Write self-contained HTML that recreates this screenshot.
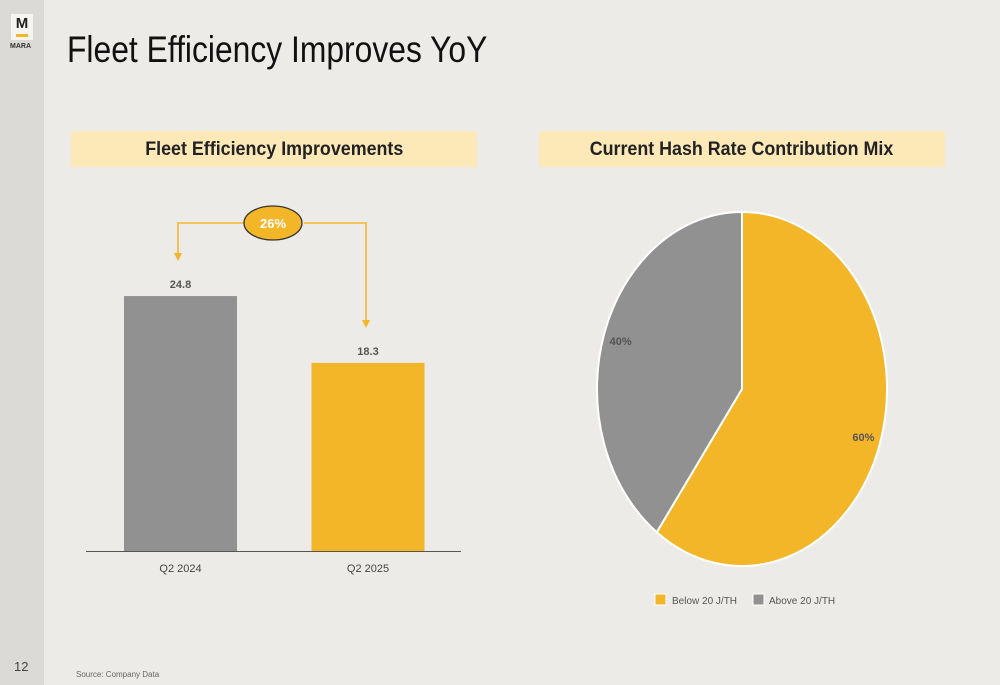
<!DOCTYPE html>
<html><head><meta charset="utf-8"><style>
body{margin:0;width:1000px;height:685px;background:#edebe7;font-family:"Liberation Sans",sans-serif;position:relative;overflow:hidden}
.side{position:absolute;left:0;top:0;width:44px;height:685px;background:#dcdad6}
.abs{position:absolute}
.hdr{position:absolute;top:131px;height:36px;background:#fde8b8;font-weight:bold;font-size:19px;color:#222;text-align:center;line-height:38px}
.hdr span{display:inline-block;transform:scaleX(0.94)}
</style></head><body>
<div class="side"></div>
<div class="abs" style="left:11px;top:14px;width:22px;height:26px;background:#f5f4f1;text-align:center;font-weight:bold;font-size:15px;color:#222;line-height:20px">M<div style="width:12px;height:3px;background:#f3b628;margin:0 auto"></div></div>
<div class="abs" style="left:10px;top:43px;font-size:7px;font-weight:bold;color:#333">MARA</div>
<div class="abs" style="left:67px;top:29px;font-size:37px;color:#111;transform:scaleX(0.86);transform-origin:left">Fleet Efficiency Improves YoY</div>
<div class="hdr" style="left:71px;width:406px"><span>Fleet Efficiency Improvements</span></div>
<div class="hdr" style="left:539px;width:406px"><span>Current Hash Rate Contribution Mix</span></div>
<div class="abs" style="left:14px;top:659px;font-size:13px;color:#444">12</div>
<div class="abs" style="left:76px;top:670px;font-size:8px;color:#666">Source: Company Data</div>
<svg class="abs" style="left:0;top:0" width="1000" height="685" id="chart">
<g id="bars"></g><g id="pie"></g>
<line x1="86" y1="551.5" x2="461" y2="551.5" stroke="#555" stroke-width="1"/>
<polyline points="178,253 178,223 246,223" fill="none" stroke="#f3b628" stroke-width="1.5"/>
<polygon points="174,253 182,253 178,261" fill="#f3b628"/>
<polyline points="304,223 366,223 366,320" fill="none" stroke="#f3b628" stroke-width="1.5"/>
<polygon points="362,320 370,320 366,328" fill="#f3b628"/>
<ellipse cx="273" cy="223" rx="29" ry="17" fill="#f3b628" stroke="#333" stroke-width="1.3"/>
<text x="273" y="228" text-anchor="middle" font-size="13" font-weight="bold" fill="#fff">26%</text>
<rect x="655" y="594" width="11" height="11" fill="#f3b628" stroke="#fff"/>
<text x="672" y="604" font-size="10" fill="#555">Below 20 J/TH</text>
<rect x="753" y="594" width="11" height="11" fill="#919191" stroke="#fff"/>
<text x="769" y="604" font-size="10" fill="#555">Above 20 J/TH</text>
</svg>
<script>
const categories=["Q2 2024","Q2 2025"];
const values=[24.8,18.3];
const barColors=["#919191","#f3b628"];
const pieLabels=["Below 20 J/TH","Above 20 J/TH"];
const pieValues=[60,40];
const pieColors=["#f3b628","#919191"];
const NS="http://www.w3.org/2000/svg";
function mk(t,a,p){const e=document.createElementNS(NS,t);for(const k in a)e.setAttribute(k,a[k]);p.appendChild(e);return e;}
const y=v=>551-v*10.28;
const xc=i=>180.5+i*187.5;
const bg=document.getElementById('bars');
values.forEach((v,i)=>{
 const r=mk('rect',{x:xc(i)-56.5,y:y(v),width:113,height:551-y(v),fill:barColors[i]},bg);
 
 
 const t=mk('text',{x:xc(i),y:y(v)-8,'text-anchor':'middle','font-size':11,'font-weight':'bold',fill:'#555'},bg);t.textContent=v.toFixed(1);
 
 
 const c=mk('text',{x:xc(i),y:572,'text-anchor':'middle','font-size':11,fill:'#444'},bg);c.textContent=categories[i];
 
 
});
const pg=document.getElementById('pie');
const cx=742,cy=389,rx=145,ry=177;
const tot=pieValues.reduce((a,b)=>a+b,0);
let a0=0;
const pt=(a,f)=>[cx+rx*f*Math.sin(a),cy-ry*f*Math.cos(a)];
pieValues.forEach((v,i)=>{
 const a1=a0+v/tot*2*Math.PI;
 const p0=pt(a0,1),p1=pt(a1,1);
 const large=(a1-a0)>Math.PI?1:0;
 const s=mk('path',{d:`M${cx},${cy} L${p0[0]},${p0[1]} A${rx},${ry} 0 ${large} 1 ${p1[0]},${p1[1]} Z`,fill:pieColors[i],stroke:'#fff','stroke-width':2},pg);
 
 
 const m=(a0+a1)/2,lp=pt(m,0.88);
 const t=mk('text',{x:lp[0],y:lp[1]+4,'text-anchor':'middle','font-size':11,'font-weight':'bold',fill:'#555'},pg);t.textContent=v+'%';
 
 
 a0=a1;
});
</script>
</body></html>
